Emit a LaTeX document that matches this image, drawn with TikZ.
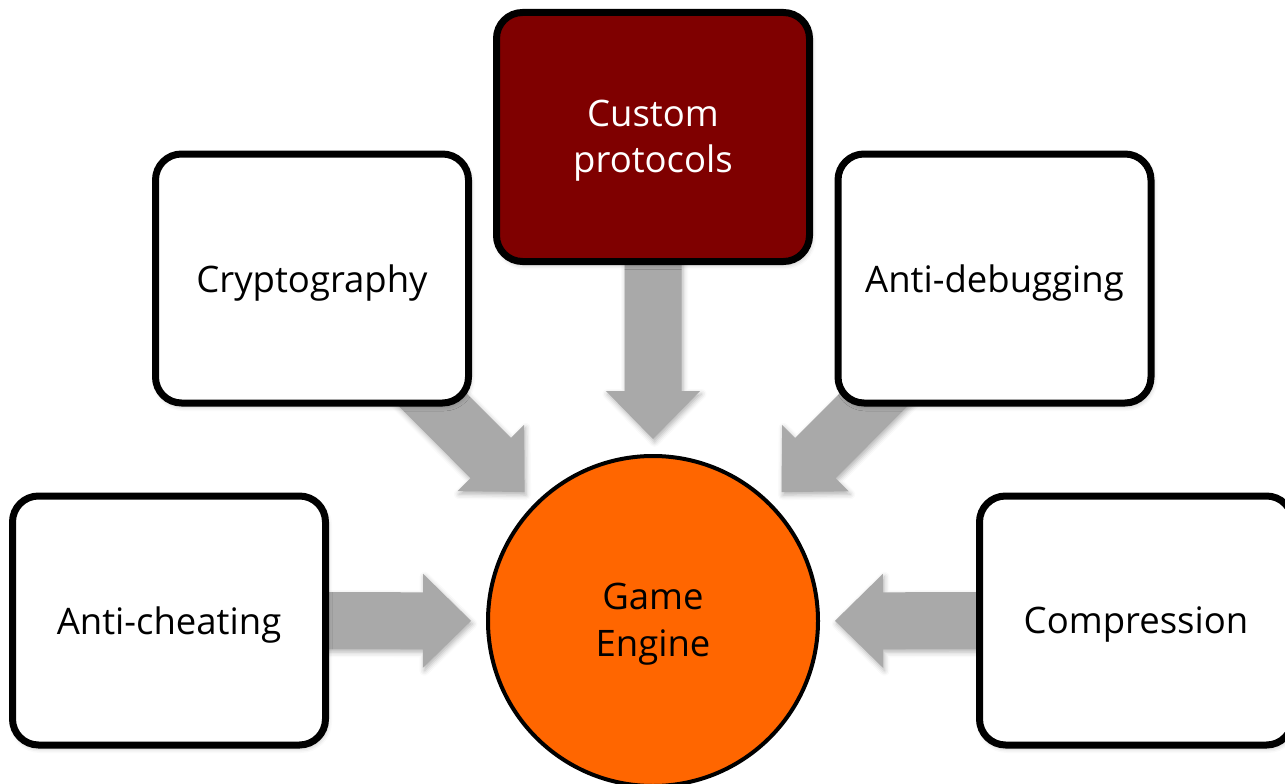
\documentclass[tikz,border=0pt]{standalone}
\usepackage{fontspec}
\setmainfont{Open Sans}
\usetikzlibrary{calc,shadows.blur}

\definecolor{arrowgray}{HTML}{A9A9A9}
\definecolor{darkred}{HTML}{7F0000}
\definecolor{engineorange}{HTML}{FF6600}

\tikzset{
  softshadow/.style={blur shadow={shadow xshift=1.5pt, shadow yshift=-3pt,
      shadow blur radius=5pt, shadow opacity=30}},
  topicbox/.style={draw=black, line width=7pt, rounded corners=26pt,
      fill=white, minimum width=313pt, minimum height=249pt,
      align=center, inner sep=0pt, softshadow, text depth=0pt,
      font=\fontsize{36.5}{45}\selectfont},
  headbox/.style={topicbox, fill=darkred, text=white, text depth=2pt,
      font=\fontsize{36.5}{46}\selectfont},
  enginenode/.style={circle, draw=black, line width=4pt, fill=engineorange,
      minimum size=330pt, align=center, inner sep=0pt, text depth=2pt,
      font=\fontsize{36.5}{47}\selectfont},
  fatarrow/.style={fill=arrowgray, draw=none, softshadow}
}

% Thick block arrow from the centre of #1 to a tip just short of #2
\newcommand\blockarrow[2]{%
  \coordinate (tip) at ($(#2)!182pt!(#1)$);
  \coordinate (base) at ($(tip)!48pt!(#1)$);
  \fill[fatarrow]
    ($(#1)!28.5pt!90:(tip)$) --
    ($(base)!28.5pt!-90:(#1)$) --
    ($(base)!47pt!-90:(#1)$) --
    (tip) --
    ($(base)!47pt!90:(#1)$) --
    ($(base)!28.5pt!90:(#1)$) --
    ($(#1)!28.5pt!-90:(tip)$) -- cycle;%
}

\begin{document}
\begin{tikzpicture}[x=1pt, y=-1pt]
  \useasboundingbox (0,0) rectangle (1285,784);

  % positions of the centres
  \coordinate (ccheat)  at (169,620.5);
  \coordinate (ccrypto) at (312,278.5);
  \coordinate (ccustom) at (653,137);
  \coordinate (cdebug)  at (994.5,278.5);
  \coordinate (ccomp)   at (1136,620.5);
  \coordinate (cengine) at (653,621);

  % arrows behind the boxes
  \blockarrow{ccheat}{cengine}
  \blockarrow{ccrypto}{cengine}
  \blockarrow{ccustom}{cengine}
  \blockarrow{cdebug}{cengine}
  \blockarrow{ccomp}{cengine}

  % boxes
  \node[topicbox] (cheat)  at (ccheat)  {Anti-cheating};
  \node[topicbox] (crypto) at (ccrypto) {Cryptography};
  \node[headbox]  (custom) at (ccustom) {Custom\\protocols};
  \node[topicbox] (debug)  at (cdebug)  {Anti-debugging};
  \node[topicbox] (comp)   at (ccomp)   {Compression};

  % central engine
  \node[enginenode] (engine) at (cengine) {Game\\Engine};
\end{tikzpicture}
\end{document}
